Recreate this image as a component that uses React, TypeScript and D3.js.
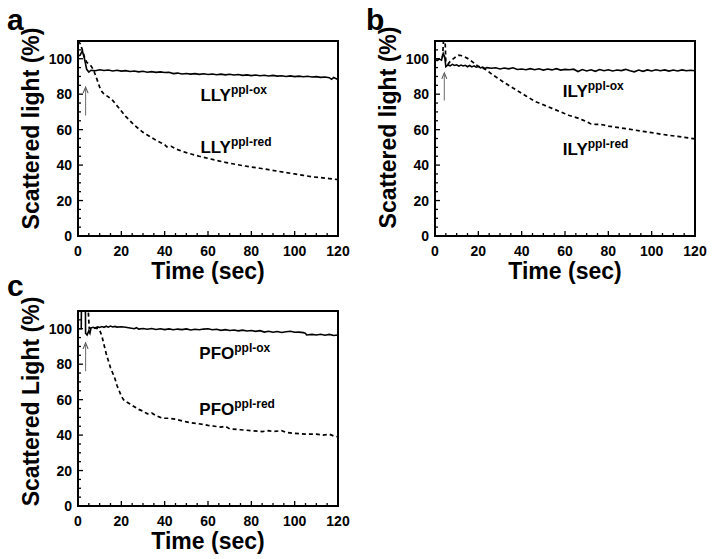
import React from "react";
import * as d3 from "d3";

type Pt = [number, number];

const xTicks = [0, 20, 40, 60, 80, 100, 120];
const yTicks = [0, 20, 40, 60, 80, 100];

const aOx: Pt[] = [[0,101.5],[1,102],[2,104.5],[3,100],[4,94],[5,92.5],[6,93.5],[8,93.2],[10,93.8],[12,93.4],[14,93.6],[16,93.1],[18,93.5],[20,93],[22,93.3],[24,92.8],[26,93.1],[28,92.6],[30,92.9],[32,92.4],[34,92.7],[36,92.3],[38,92.6],[40,92.2],[42,92.4],[44,91.6],[46,91.9],[48,91.4],[50,91.7],[52,91.3],[54,91.6],[56,91.2],[58,91.5],[60,91.1],[62,91.4],[64,91],[66,91.3],[68,90.9],[70,91.2],[72,90.8],[74,91.1],[76,90.6],[78,90.9],[80,90.5],[82,90.8],[84,90.4],[86,90.7],[88,90.3],[90,90.6],[92,90.2],[94,90.4],[96,90],[98,90.3],[100,89.9],[102,90.2],[104,89.8],[106,90.1],[108,89.7],[110,89.9],[112,89.5],[114,89.7],[116,89.3],[117,88.4],[118,89.4],[119,88.8],[120,88.2]];
const aRed: Pt[] = [[0,110],[1,108.5],[2,105],[3,101],[4,98],[5,97],[6,96],[7,94],[8,91],[9,87.5],[10,84],[11,81.5],[12,80],[13,79.3],[14,78.5],[16,76.5],[18,73.5],[20,70.5],[22,67.5],[24,65],[26,62.5],[28,60.5],[30,58.5],[32,57],[34,55.5],[36,54],[38,52.8],[40,51.5],[41,50.3],[43,50.6],[45,49.2],[48,47.8],[50,47],[53,46],[56,45],[60,43.8],[64,42.6],[68,41.5],[72,40.6],[76,39.7],[80,38.9],[84,38.2],[88,37.4],[92,36.6],[96,35.8],[100,35],[104,34.2],[108,33.4],[112,32.9],[116,32.4],[120,31.8]];

const bOx: Pt[] = [[0,99.5],[1,99],[2,99.8],[3,99.2],[3.8,103],[4.5,101],[5,95.5],[6,96.5],[7,96],[8,96.8],[9,96.2],[10,96.6],[11,95.8],[12,96.4],[13,95.9],[14,96.3],[15,95.5],[16,96.2],[17,95.4],[18,96],[19,95.2],[20,95.6],[21,94.8],[22,95.3],[23,94.5],[24,95],[26,94.6],[28,94.9],[30,94.2],[32,94.8],[34,94.3],[36,94.9],[38,93.9],[40,94.2],[42,93.8],[44,94.4],[46,93.8],[48,94.3],[50,93.6],[52,94.2],[54,93.7],[56,94.4],[58,93.6],[60,94],[62,93.8],[64,94.1],[66,92.8],[68,93.9],[70,93.1],[72,93.8],[74,92.9],[76,93.9],[78,93.2],[80,93.8],[82,93.1],[84,93.6],[86,93.3],[88,94],[90,93.2],[92,92.6],[94,93.6],[96,92.9],[98,93.7],[100,93.1],[102,93.8],[104,93.2],[106,93.7],[108,93],[110,93.6],[112,93.1],[114,93.7],[116,93.2],[118,93.5],[120,93.2]];
const bRed: Pt[] = [[0,100],[2,100],[3.5,101],[4,112],[4.6,112],[5,98],[6,97],[7,98.5],[8,99.5],[9,100.5],[10,101.5],[11,102],[12,101.8],[13,101.3],[14,100.8],[15,100.2],[16,99.5],[17,98.5],[18,97.5],[19,96.5],[20,95.8],[22,94.8],[24,93.5],[26,91.5],[28,89.8],[30,88.2],[32,86.5],[34,85],[36,83.5],[38,82],[40,80.5],[42,79],[44,77.5],[46,76],[48,75],[50,74],[52,73],[54,72],[56,71],[58,70],[60,69],[62,68],[64,67.2],[66,66.5],[68,65.5],[70,64.5],[72,63.2],[74,63],[76,63],[78,62.6],[80,62],[84,61.3],[88,60.6],[92,59.8],[96,59],[100,58.3],[104,57.5],[108,56.8],[112,56.2],[116,55.5],[120,54.8]];

const cOx: Pt[] = [[0,100],[1.5,100],[1.6,116],[3.4,116],[3.5,97.5],[4.2,96.5],[5,98.8],[5.5,97.5],[6,100.5],[7,100.8],[8,100.4],[9,101],[10,100.7],[11,101.2],[12,100.8],[13,101.4],[14,100.9],[15,101.5],[16,101],[17,101.3],[18,100.9],[20,101.1],[22,100.8],[24,100.4],[26,100],[27,100.6],[28,99.8],[30,100.1],[32,99.7],[34,100.1],[36,99.6],[38,100],[40,99.5],[42,99.9],[44,99.4],[46,99.8],[48,99.5],[50,99.9],[52,99.3],[54,99.7],[56,99.4],[58,99.8],[60,100],[62,99.4],[64,99.7],[66,99.1],[68,99.5],[70,99],[72,99.3],[74,98.8],[76,99.2],[78,98.7],[80,99],[82,98.5],[84,98.9],[86,98.1],[88,98.6],[90,98],[92,98.4],[94,97.9],[96,98.3],[98,98.6],[100,98],[102,98.1],[104,97.8],[105,97.4],[105.5,96.5],[108,96.8],[110,96.5],[112,96.9],[114,96.3],[116,96.8],[118,96.2],[120,96.5]];
const cRed: Pt[] = [[4.6,113],[5.2,100],[6,100.3],[7,100],[8,100.4],[9,100],[10,99.2],[11,96],[12,91],[13,86],[14,82],[15,78],[16,75],[17,72],[18,68],[19,65],[20,62],[21,60],[22,59],[24,57.5],[26,56],[28,54.5],[30,53.5],[32,52],[34,52.5],[36,51],[38,50],[40,49.5],[42,49.5],[45,49],[48,48],[50,47.5],[52,47],[55,46.5],[58,46],[60,45.5],[63,45],[66,44.5],[68,45],[70,43.5],[75,43],[80,42.5],[85,42],[88,42.5],[90,42],[94,42.5],[96,41.5],[100,41],[105,40.5],[110,40.5],[113,40],[116,40.5],[118,39.5],[120,39]];

const FONT = "'Liberation Sans', Arial, Helvetica, sans-serif";

type PanelProps = {
  left: number; top: number; width: number; height: number;
  letter: string; letterX: number; letterY: number;
  yTitle: string; yTitleDy: number;
  ox: Pt[]; red: Pt[];
  name: string; labelT: number; oxLabelY: number; redLabelY: number;
  arrowT: number; arrowFrom: number; arrowTo: number;
  id: string;
};

function Panel(p: PanelProps) {
  const x = d3.scaleLinear().domain([0, 120]).range([p.left, p.left + p.width]);
  const y = d3.scaleLinear().domain([0, 110]).range([p.top + p.height, p.top]);
  const line = d3.line<Pt>().x(d => x(d[0])).y(d => y(d[1]));
  const bottom = p.top + p.height;
  const minorX = d3.range(0, 121, 5);
  const minorY = d3.range(0, 111, 5);
  const ax = x(p.arrowT);
  return (
    <g fontFamily={FONT} fontWeight="bold">
      <defs>
        <clipPath id={"clip" + p.id}>
          <rect x={p.left} y={p.top} width={p.width} height={p.height} />
        </clipPath>
      </defs>
      <text x={p.letterX} y={p.letterY} fontSize={30}>{p.letter}</text>
      <g clipPath={`url(#clip${p.id})`}>
        <path d={line(p.red) || ""} fill="none" stroke="#000" strokeWidth={1.7} strokeDasharray="4,3" />
        <path d={line(p.ox) || ""} fill="none" stroke="#000" strokeWidth={1.6} />
      </g>
      <line x1={ax} x2={ax} y1={y(p.arrowFrom)} y2={y(p.arrowTo) + 2} stroke="#777" strokeWidth={1.1} />
      <path d={`M${ax - 2.5},${y(p.arrowTo) + 6} L${ax},${y(p.arrowTo)} L${ax + 2.5},${y(p.arrowTo) + 6}`} fill="none" stroke="#555" strokeWidth={1.1} />
      {minorX.map(t => (
        <line key={"mx" + t} x1={x(t)} x2={x(t)} y1={bottom} y2={bottom - (t % 20 === 0 ? 5 : 3)} stroke="#000" strokeWidth={1.3} />
      ))}
      {minorY.map(t => (
        <line key={"my" + t} x1={p.left} x2={p.left + (t % 20 === 0 ? 5 : 3)} y1={y(t)} y2={y(t)} stroke="#000" strokeWidth={1.3} />
      ))}
      <rect x={p.left} y={p.top} width={p.width} height={p.height} fill="none" stroke="#000" strokeWidth={2} />
      {xTicks.map(t => (
        <text key={"xt" + t} x={x(t)} y={bottom + 20} fontSize={14} textAnchor="middle">{t}</text>
      ))}
      {yTicks.map(t => (
        <text key={"yt" + t} x={p.left - 6} y={y(t) + 5} fontSize={14} textAnchor="end">{t}</text>
      ))}
      <text x={p.left + p.width / 2} y={bottom + 43} fontSize={23} textAnchor="middle">Time (sec)</text>
      <text transform={`translate(${p.left - 39},${p.top + p.height / 2 + p.yTitleDy}) rotate(-90)`} fontSize={23} textAnchor="middle">{p.yTitle}</text>
      <text x={x(p.labelT)} y={p.oxLabelY} fontSize={17}>
        {p.name}<tspan fontSize={12} dy={-7}>ppl-ox</tspan>
      </text>
      <text x={x(p.labelT)} y={p.redLabelY} fontSize={17}>
        {p.name}<tspan fontSize={12} dy={-7}>ppl-red</tspan>
      </text>
    </g>
  );
}

export default function App() {
  return (
    <svg width={712} height={559} style={{ position: "absolute", left: 0, top: 0, background: "#fff" }}>
      <rect width={712} height={559} fill="#fff" />
      <Panel id="a" left={78} top={41} width={260} height={195} letter="a" letterX={7} letterY={30}
        yTitle="Scattered light (%)" yTitleDy={-10} ox={aOx} red={aRed} name="LLY" labelT={56.5}
        oxLabelY={101} redLabelY={153} arrowT={3.5} arrowFrom={68} arrowTo={84} />
      <Panel id="b" left={435} top={41} width={260} height={195} letter="b" letterX={366} letterY={30}
        yTitle="Scattered light (%)" yTitleDy={-11} ox={bOx} red={bRed} name="ILY" labelT={59}
        oxLabelY={97} redLabelY={155} arrowT={4.3} arrowFrom={76.5} arrowTo={92} />
      <Panel id="c" left={78} top={311} width={260} height={195} letter="c" letterX={7} letterY={296}
        yTitle="Scattered Light (%)" yTitleDy={-7} ox={cOx} red={cRed} name="PFO" labelT={56}
        oxLabelY={359} redLabelY={415} arrowT={3.5} arrowFrom={76} arrowTo={92} />
    </svg>
  );
}
